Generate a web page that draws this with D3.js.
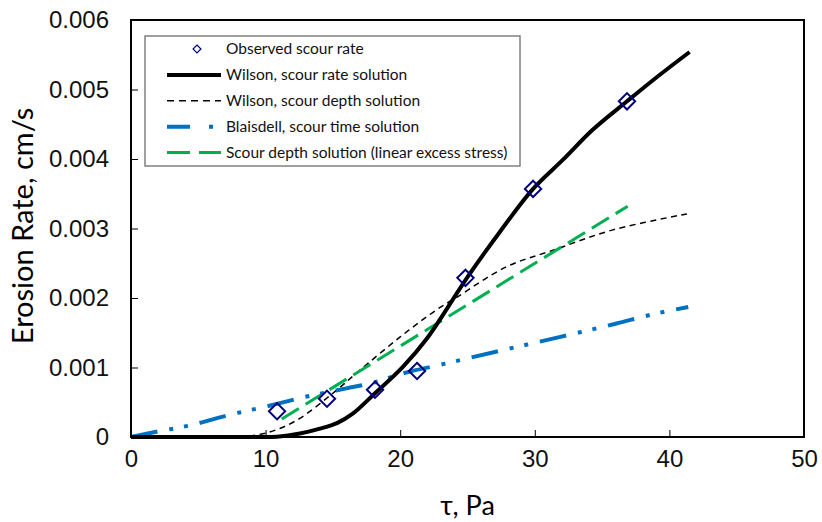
<!DOCTYPE html>
<html>
<head>
<meta charset="utf-8">
<script src="https://cdn.jsdelivr.net/npm/d3@7"></script>
<style>
  body { margin: 0; background: #fff; }
  svg { display: block; }
</style>
</head>
<body>
<svg id="chart" width="822" height="522"></svg>
<script>
// observed scour rate
const obsTau  = [10.85, 14.56, 18.13, 21.25, 24.85, 29.87, 36.85];
const obsRate = [0.00037, 0.00055, 0.00068, 0.00095, 0.00229, 0.00357, 0.00483];

// Wilson, scour rate solution
const wrTau  = [0, 9, 10.85, 12.55, 14.04, 15.3, 16.5, 18.13, 20.2, 22.0, 24.96, 27.4, 29.87, 32.1, 34.3, 36.85, 39.08, 41.5];
const wrRate = [0, 0, 0.000005, 0.00005, 0.00012, 0.0002, 0.00034, 0.00063, 0.00101, 0.00142, 0.00229, 0.00295, 0.00357, 0.00399, 0.00442, 0.00483, 0.00518, 0.00554];

// Wilson, scour depth solution
const wdTau  = [8.0, 10.1, 12.3, 15, 17, 20, 22.7, 24.2, 27.9, 31.4, 35.8, 41.3];
const wdRate = [0, 0.00006, 0.00024, 0.00063, 0.00096, 0.00144, 0.00183, 0.00201, 0.00245, 0.00269, 0.00298, 0.00321];

// Blaisdell, scour time solution
const blTau  = [0, 2, 4.2, 7.35, 10.5, 12.55, 16, 18, 20.1, 23, 27.4, 31.9, 36, 39.1, 41.4];
const blRate = [0, 0.00008, 0.00016, 0.00032, 0.00046, 0.00056, 0.0007, 0.00078, 0.00091, 0.00104, 0.00124, 0.00144, 0.00163, 0.00178, 0.00187];

// Scour depth solution (linear excess stress)
const lnTau  = [11.2, 36.9];
const lnRate = [0.00026, 0.00332];

const xTicks = [0, 10, 20, 30, 40, 50];
const yTicks = [0, 0.001, 0.002, 0.003, 0.004, 0.005, 0.006];

const svg = d3.select("#chart");
const m = {left: 131, right: 804, top: 20, bottom: 437};

const x = d3.scaleLinear().domain([0, 50]).range([m.left, m.right]);
const y = d3.scaleLinear().domain([0, 0.006]).range([m.bottom, m.top]);

const zip = (a, b) => a.map((t, i) => [t, b[i]]);
const smooth = d3.line().x(d => x(d[0])).y(d => y(d[1])).curve(d3.curveCatmullRom.alpha(0.5));
const mono = d3.line().x(d => x(d[0])).y(d => y(d[1])).curve(d3.curveMonotoneX);

const plot = svg.append("g");

// series
const series = [
  {name: "Wilson, scour depth solution", data: zip(wdTau, wdRate), stroke: "#000", width: 1.5, dash: "6,4.5", gen: smooth},
  {name: "Scour depth solution (linear excess stress)", data: zip(lnTau, lnRate), stroke: "#00b050", width: 3, dash: "20,8", gen: mono},
  {name: "Blaisdell, scour time solution", data: zip(blTau, blRate), stroke: "#0070c0", width: 4, dash: "27,12,4,11,4,12", gen: mono},
  {name: "Wilson, scour rate solution", data: zip(wrTau, wrRate), stroke: "#000", width: 4, dash: null, gen: smooth}
];

series.forEach(s => {
  plot.append("path")
    .datum(s.data)
    .attr("d", s.gen)
    .attr("fill", "none")
    .attr("stroke", s.stroke)
    .attr("stroke-width", s.width)
    .attr("stroke-dasharray", s.dash);
});

// observed diamonds
const diamond = d3.symbol().type(d3.symbolDiamond2).size(170);
plot.selectAll(".obs")
  .data(zip(obsTau, obsRate))
  .join("path")
    .attr("class", "obs")
    .attr("transform", d => `translate(${x(d[0])},${y(d[1])})`)
    .attr("d", diamond)
    .attr("fill", "none")
    .attr("stroke", "#000080")
    .attr("stroke-width", 2);

// axes (inside ticks)
const xAxis = svg.append("g")
  .attr("transform", `translate(0,${m.bottom})`)
  .call(d3.axisBottom(x).tickValues(xTicks).tickSize(-7).tickPadding(13).tickFormat(d3.format("d")));
const yAxis = svg.append("g")
  .attr("transform", `translate(${m.left},0)`)
  .call(d3.axisLeft(y).tickValues(yTicks).tickSize(-7).tickPadding(22)
    .tickFormat(d => d === 0 ? "0" : d3.format(".3f")(d)));

[xAxis, yAxis].forEach(g => {
  g.select(".domain").remove();
  g.selectAll(".tick line").attr("stroke", "#000").attr("stroke-width", 1);
  g.selectAll("text")
    .attr("fill", "#111")
    .style("font-family", "'Liberation Sans', Arial, sans-serif")
    .style("font-size", "24px");
});
xAxis.selectAll(".tick").filter(d => d === 0 || d === 50).select("line").remove();
yAxis.selectAll(".tick").filter(d => d === 0 || d === 0.006).select("line").remove();

// frame
svg.append("rect")
  .attr("x", m.left).attr("y", m.top)
  .attr("width", m.right - m.left).attr("height", m.bottom - m.top)
  .attr("fill", "none").attr("stroke", "#000").attr("stroke-width", 2);

// axis titles
svg.append("text")
  .attr("x", (m.left + m.right) / 2).attr("y", 515)
  .attr("text-anchor", "middle")
  .style("font-family", "Lato, sans-serif").style("font-size", "27px")
  .text("τ, Pa");

svg.append("text")
  .attr("transform", `translate(33,${226}) rotate(-90)`)
  .attr("text-anchor", "middle")
  .style("font-family", "Lato, sans-serif").style("font-size", "29px")
  .text("Erosion Rate, cm/s");

// legend
const legend = svg.append("g");
legend.append("rect")
  .attr("x", 145).attr("y", 36).attr("width", 375).attr("height", 130)
  .attr("fill", "#fff").attr("stroke", "#808080").attr("stroke-width", 1.5);

const legendItems = [
  {name: "Observed scour rate", marker: true},
  series[3], series[0], series[2], series[1]
];
legendItems.forEach((d, i) => {
  const ly = 49 + i * 25.9;
  if (d.marker) {
    legend.append("path")
      .attr("transform", `translate(197,${ly})`)
      .attr("d", d3.symbol().type(d3.symbolDiamond2).size(40))
      .attr("fill", "none").attr("stroke", "#000080").attr("stroke-width", 1.2);
  } else {
    legend.append("line")
      .attr("x1", 167).attr("x2", 221).attr("y1", ly).attr("y2", ly)
      .attr("stroke", d.stroke).attr("stroke-width", d.width)
      .attr("stroke-dasharray", d.stroke === "#0070c0" ? "23,19,4,40" : (d.dash ? (d.width > 2 ? "23,9" : "7,5") : null));
  }
  legend.append("text")
    .attr("x", 226).attr("y", ly).attr("dy", "0.35em")
    .style("font-family", "Lato, sans-serif").style("font-size", "15.5px")
    .attr("fill", "#111")
    .text(d.name);
});
</script>
</body>
</html>
